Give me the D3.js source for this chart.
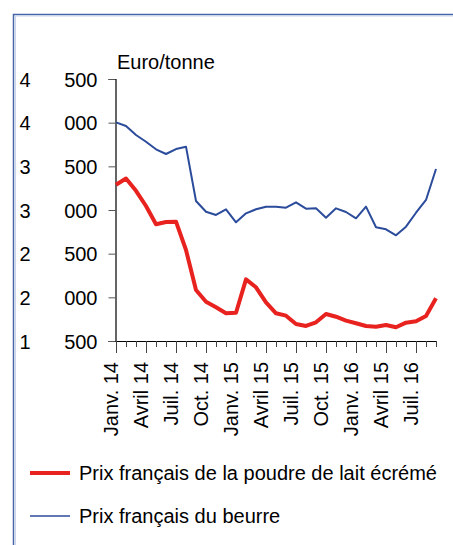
<!DOCTYPE html>
<html>
<head>
<meta charset="utf-8">
<script src="https://cdn.jsdelivr.net/npm/d3@7"></script>
<style>
body { margin: 0; background: #fff; }
svg text { font-family: "Liberation Sans", Arial, sans-serif; fill: #000; }
</style>
</head>
<body>
<div id="chart"></div>
<script>
// months from Janv. 14 to Sept. 16
var months = d3.range(33);
var tickLabels = ["Janv. 14", "Avril 14", "Juil. 14", "Oct. 14", "Janv. 15", "Avril 15",
                  "Juil. 15", "Oct. 15", "Janv. 16", "Avril 15", "Juil. 16"];
var yTicks = [1500, 2000, 2500, 3000, 3500, 4000, 4500];

var poudre = [3290, 3360, 3220, 3046, 2836, 2862, 2866, 2542, 2084, 1950, 1886, 1817, 1824,
              2206, 2115, 1943, 1817, 1790, 1695, 1672, 1714, 1809, 1778, 1733, 1703, 1672,
              1664, 1683, 1657, 1710, 1725, 1786, 1989];
var beurre = [4004, 3962, 3859, 3782, 3695, 3641, 3698, 3725, 3103, 2980, 2943, 3008, 2859,
              2962, 3008, 3038, 3038, 3026, 3088, 3015, 3019, 2912, 3019, 2977, 2905, 3038,
              2802, 2779, 2710, 2809, 2969, 3115, 3470];
var seriesNames = ["Prix français de la poudre de lait écrémé", "Prix français du beurre"];
var seriesColors = ["#e8231f", "#2b4b9b"];
var seriesWidths = [4, 2];

var W = 453, H = 545;
var svg = d3.select("#chart").append("svg")
    .attr("width", W)
    .attr("height", H);

// frame
svg.append("path")
    .attr("d", "M13.5," + H + "V14.5H" + W)
    .attr("fill", "none")
    .attr("stroke", "#4565a8")
    .attr("stroke-width", 1.5);
svg.append("path")
    .attr("d", "M15.5," + H + "V16H" + W)
    .attr("fill", "none")
    .attr("stroke", "#c9d4ec")
    .attr("stroke-width", 1);

var x = d3.scaleLinear()
    .domain([0, 32])
    .range([116, 436]);
var y = d3.scaleLinear()
    .domain([1500, 4500])
    .range([341, 79]);

// y axis
var yAxis = svg.append("g")
    .attr("transform", "translate(115.5,0)")
    .call(d3.axisLeft(y).tickValues(yTicks).tickSize(7));
yAxis.select(".domain").attr("stroke", "#000").attr("stroke-width", 1.2);
yAxis.selectAll(".tick line").attr("stroke", "#555");
yAxis.selectAll(".tick text").remove();
// thousands part and remainder set apart, as in the original
yAxis.selectAll(".tick").each(function(d) {
    var g = d3.select(this);
    g.append("text")
        .attr("x", -96)
        .attr("dy", "0.35em")
        .attr("text-anchor", "start")
        .attr("fill", "#000")
        .style("font-size", "20px")
        .text(Math.floor(d / 1000));
    g.append("text")
        .attr("x", -18)
        .attr("dy", "0.35em")
        .attr("text-anchor", "end")
        .attr("fill", "#000")
        .style("font-size", "20px")
        .text(d3.format("03d")(d % 1000));
});

// x axis
var xAxis = svg.append("g")
    .attr("transform", "translate(0,341)")
    .call(d3.axisBottom(x).tickValues(months).tickFormat("").tickSize(6).tickSizeOuter(0));
xAxis.select(".domain").attr("stroke", "#000").attr("stroke-width", 1.2);
xAxis.selectAll(".tick line")
    .attr("stroke", "#444")
    .attr("y2", function(d) { return d % 3 === 0 ? 12 : 6; });

svg.append("g").selectAll("text")
    .data(tickLabels)
    .enter()
    .append("text")
    .attr("transform", function(d, i) { return "translate(" + (x(i * 3) + 2) + ",362)rotate(-90)"; })
    .attr("text-anchor", "end")
    .style("font-size", "20px")
    .text(function(d) { return d; });

svg.append("text")
    .attr("x", 117)
    .attr("y", 69)
    .style("font-size", "20px")
    .text("Euro/tonne");

// lines
var line = d3.line()
    .x(function(d, i) { return x(i); })
    .y(function(d) { return y(d); });

[beurre, poudre].forEach(function(s, j) {
    var k = 1 - j;
    svg.append("path")
        .datum(s)
        .attr("fill", "none")
        .attr("stroke", seriesColors[k])
        .attr("stroke-width", seriesWidths[k])
        .attr("stroke-linejoin", "round")
        .attr("d", line);
});

// legend
seriesNames.forEach(function(name, i) {
    var ly = 473 + i * 43;
    svg.append("line")
        .attr("x1", 30).attr("x2", 70)
        .attr("y1", ly).attr("y2", ly)
        .attr("stroke", seriesColors[i])
        .attr("stroke-width", seriesWidths[i] === 4 ? 4 : 1.5);
    svg.append("text")
        .attr("x", 79)
        .attr("y", ly + 7)
        .style("font-size", "20px")
        .text(name);
});
</script>
</body>
</html>
